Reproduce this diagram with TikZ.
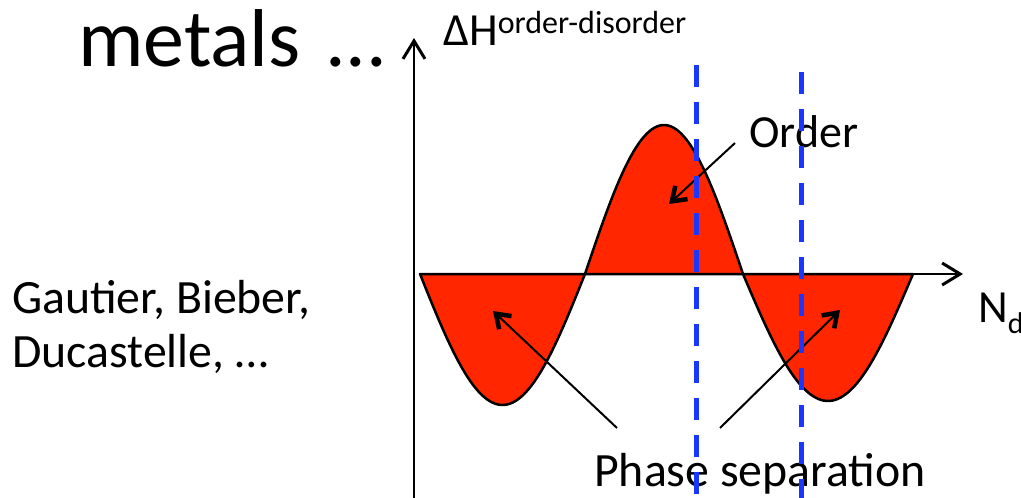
\documentclass[tikz,border=0pt]{standalone}
\usepackage{fontspec}
\setmainfont{Carlito}
\usetikzlibrary{arrows.meta,positioning}

\definecolor{lobered}{RGB}{255,38,0}
\definecolor{phaseblue}{RGB}{25,55,255}

\begin{document}
\begin{tikzpicture}[x=1pt,y=-1pt,
  axis/.style={line width=2pt,-{Straight Barb[length=18pt,width=22pt,line width=3pt]}},
  lobe/.style={fill=lobered,draw=black,line width=2.5pt,line join=round},
  pointer/.style={line width=2pt,-{Straight Barb[length=13pt,width=18pt,line width=4.5pt]}},
  bound/.style={draw=phaseblue,line width=5pt,dash pattern=on 22pt off 15pt},
  label/.style={inner sep=0pt,anchor=base west,font=\fontsize{46}{53}\selectfont},
  wide/.style={label,font=\fontsize{47.8}{53}\selectfont}]

\useasboundingbox (0,0) rectangle (1021,498);

% enthalpy curve
\path[lobe] plot[domain=0:180,samples=60] ({420+\x/180*165},{274+131*sin(\x)}) -- cycle;
\path[lobe] plot[domain=0:180,samples=60] ({585+\x/180*158},{274-149*sin(\x)}) -- cycle;
\path[lobe] plot[domain=0:180,samples=60] ({743+\x/180*170},{274+127*sin(\x)}) -- cycle;

% axes
\coordinate (yfoot) at (414,498);
\coordinate (ytop) at (414,38);
\coordinate (xstart) at (420,274);
\coordinate (xend) at (963,274);
\draw[axis] (yfoot) -- (ytop);
\draw[axis] (xstart) -- (xend);

% texts
\node[label,font=\fontsize{82}{90}\selectfont] (metals) at (78,66) {metals\hspace{6pt} ...};
\node[label] (dh) at (443,45) {ΔH\raisebox{12pt}{\fontsize{32}{32}\selectfont order-disorder}};
\node[label] (nd) at (978,322) {N\raisebox{-11pt}{\fontsize{30}{30}\selectfont d}};
\node[label] (order) at (749,147) {Order};
\node[wide] (phase) at (594,486) {Phase separation};
\node[wide] (gautier) at (12,313) {Gautier, Bieber,};
\node[wide] (ducastelle) at ([yshift=-54pt]gautier.base west) {Ducastelle, …};

% pointers
\coordinate (ordtail) at (735,143);
\coordinate (ordtip) at (669,204);
\coordinate (lefttail) at (617,428);
\coordinate (lefttip) at (493,311);
\coordinate (righttail) at (720,428);
\coordinate (righttip) at (840,310);
\draw[pointer] (ordtail) -- (ordtip);
\draw[pointer] (lefttail) -- (lefttip);
\draw[pointer] (righttail) -- (righttip);

% phase boundaries
\coordinate (ltop) at (696,65);
\coordinate (lfoot) at (696,498);
\coordinate (rtop) at (801,72);
\coordinate (rfoot) at (801,498);
\draw[bound] (ltop) -- (lfoot);
\draw[bound] (rtop) -- (rfoot);

\end{tikzpicture}
\end{document}
